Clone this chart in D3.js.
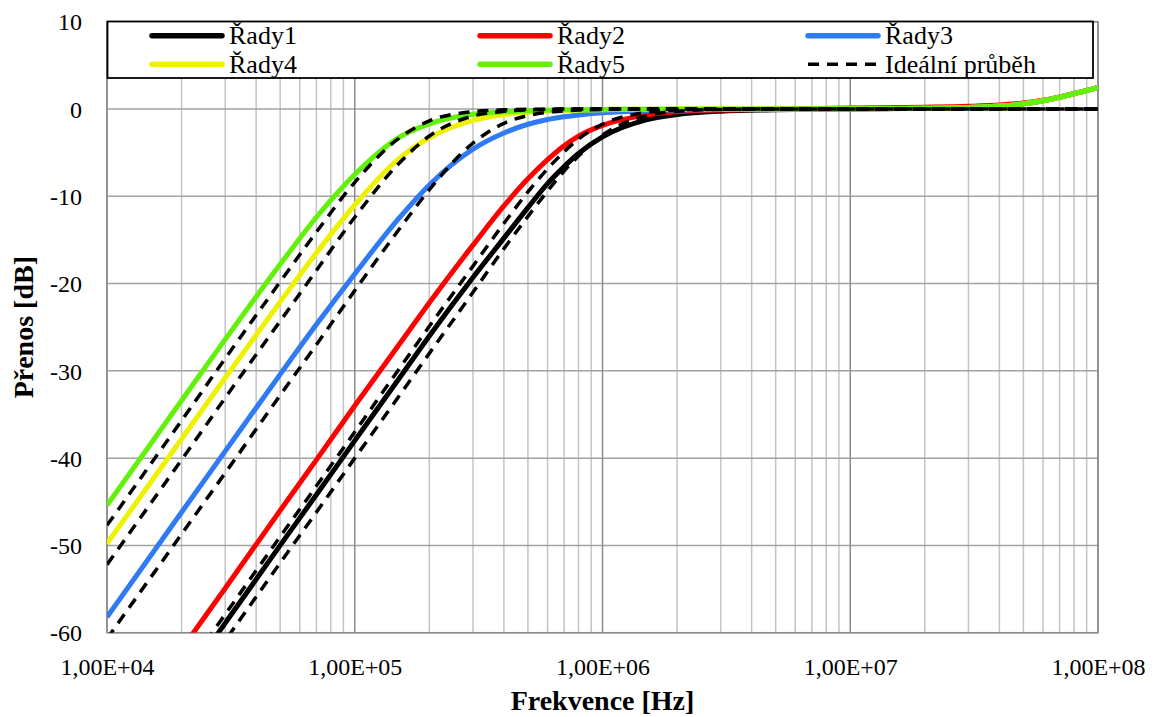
<!DOCTYPE html>
<html>
<head>
<meta charset="utf-8">
<script src="https://cdn.jsdelivr.net/npm/d3@7"></script>
<style>
  html, body { margin: 0; padding: 0; background: #fff; }
  svg { display: block; }
  text { font-family: "Liberation Serif", "Times New Roman", serif; fill: #000; }
</style>
</head>
<body>
<svg id="chart" width="1155" height="717"></svg>
<script>
// ---------------- data ----------------
const freqs = [1e4, 2e4, 3e4, 5e4, 7e4, 1e5, 1.5e5, 2e5, 3e5, 4e5, 5e5, 6e5, 7e5, 8e5, 1e6, 1.5e6, 2e6, 3e6, 5e6,
               1e7, 2e7, 3e7, 4e7, 5e7, 6e7, 7e7, 8e7, 9e7, 1e8];

const rady1 = [-78.0, -66.0, -58.9, -50.0, -44.2, -38.0, -31.0, -26.0, -19.3, -14.8, -11.3, -8.55, -6.6, -5.1, -3.2, -1.25, -0.63, -0.25, -0.09,
               0.01, 0.08, 0.17, 0.33, 0.6, 0.95, 1.35, 1.75, 2.1, 2.47];
const rady2 = [-74.0, -61.9, -54.9, -46.0, -40.2, -34.0, -27.1, -22.2, -15.6, -11.1, -8.0, -5.8, -4.2, -3.1, -1.87, -0.7, -0.33, -0.13, -0.03,
               0.12, 0.2, 0.3, 0.45, 0.7, 1.0, 1.38, 1.77, 2.12, 2.47];
const rady3 = [-58.2, -46.2, -39.2, -30.4, -24.7, -18.9, -12.6, -8.7, -4.6, -2.75, -1.75, -1.2, -0.89, -0.68, -0.43, -0.19, -0.11, -0.05, -0.02,
               0.02, 0.08, 0.17, 0.33, 0.6, 0.95, 1.35, 1.75, 2.1, 2.47];
const rady4 = [-49.8, -37.8, -30.8, -22.1, -16.5, -11.0, -5.75, -3.3, -1.3, -0.65, -0.38, -0.25, -0.18, -0.13, -0.08, -0.04, -0.02, -0.01, 0,
               0.03, 0.08, 0.17, 0.33, 0.6, 0.95, 1.35, 1.75, 2.1, 2.47];
const rady5 = [-45.4, -33.4, -26.4, -17.8, -12.4, -7.5, -3.3, -1.7, -0.6, -0.33, -0.21, -0.14, -0.1, -0.08, -0.05, -0.02, -0.01, 0, 0,
               0.03, 0.08, 0.17, 0.33, 0.6, 0.95, 1.35, 1.75, 2.1, 2.47];

const ideal1 = [-80.0, -68.0, -60.9, -52.0, -46.2, -40.0, -33.0, -28.0, -21.0, -16.0, -12.3, -9.4, -7.1, -5.4, -3.0, -0.78, -0.26, -0.05, 0,
                0, 0, 0, 0, 0, 0, 0, 0, 0, 0];
const ideal2 = [-77.0, -64.9, -57.9, -49.0, -43.2, -37.0, -29.9, -24.9, -18.0, -13.1, -9.5, -6.85, -4.9, -3.45, -1.75, -0.41, -0.13, -0.03, 0,
                0, 0, 0, 0, 0, 0, 0, 0, 0, 0];
const ideal3 = [-60.7, -48.7, -41.7, -32.8, -27.0, -20.8, -13.9, -9.25, -3.9, -1.65, -0.75, -0.38, -0.21, -0.12, -0.05, -0.01, 0, 0, 0,
                0, 0, 0, 0, 0, 0, 0, 0, 0, 0];
const ideal4 = [-52.2, -40.2, -33.1, -24.3, -18.5, -12.4, -6.3, -3.1, -0.8, -0.27, -0.11, -0.055, -0.03, -0.02, 0, 0, 0, 0, 0,
                0, 0, 0, 0, 0, 0, 0, 0, 0, 0];
const ideal5 = [-47.7, -35.7, -28.6, -19.8, -14.1, -8.4, -3.4, -1.36, -0.31, -0.1, -0.04, -0.02, -0.01, 0, 0, 0, 0, 0, 0,
                0, 0, 0, 0, 0, 0, 0, 0, 0, 0];

const seriesNames = ["Řady1", "Řady2", "Řady3", "Řady4", "Řady5"];
const idealName = "Ideální průběh";
const seriesColors = ["#000000", "#ff0000", "#2f7bf5", "#eef200", "#62f20a"];

const yTicks = [10, 0, -10, -20, -30, -40, -50, -60];
const xTicks = [1e4, 1e5, 1e6, 1e7, 1e8];
const xTickLabels = ["1,00E+04", "1,00E+05", "1,00E+06", "1,00E+07", "1,00E+08"];
const xTitle = "Frekvence [Hz]";
const yTitle = "Přenos [dB]";

// ---------------- layout ----------------
const L = 107, R = 1098, T = 21.7, B = 632.7;
const svg = d3.select("#chart");
svg.append("rect").attr("width", 1155).attr("height", 717).attr("fill", "#fff");

const x = d3.scaleLog().domain([1e4, 1e8]).range([L, R]);
const y = d3.scaleLinear().domain([-60, 10]).range([B, T]);

// grid
const grid = svg.append("g");
const minor = [];
for (let d = 4; d < 8; d++) for (let m = 2; m <= 9; m++) minor.push(m * Math.pow(10, d));
grid.selectAll(".minor").data(minor).join("line")
  .attr("x1", d => x(d)).attr("x2", d => x(d)).attr("y1", T).attr("y2", B)
  .attr("stroke", "#c4c4c4").attr("stroke-width", 1.5);
grid.selectAll(".hgrid").data(yTicks).join("line")
  .attr("x1", L).attr("x2", R).attr("y1", d => y(d)).attr("y2", d => y(d))
  .attr("stroke", "#a2a2a2").attr("stroke-width", 1.5);
grid.selectAll(".major").data(xTicks).join("line")
  .attr("x1", d => x(d)).attr("x2", d => x(d)).attr("y1", T).attr("y2", B)
  .attr("stroke", "#8c8c8c").attr("stroke-width", 1.5);
svg.append("rect").attr("x", L).attr("y", T).attr("width", R - L).attr("height", B - T)
  .attr("fill", "none").attr("stroke", "#8c8c8c").attr("stroke-width", 1.5);

// clip
svg.append("defs").append("clipPath").attr("id", "plotclip")
  .append("rect").attr("x", L).attr("y", T).attr("width", R - L).attr("height", B - T);

const line = d3.line().x(d => x(d[0])).y(d => y(d[1])).curve(d3.curveMonotoneX);
const plot = svg.append("g").attr("clip-path", "url(#plotclip)");

const solids = [rady1, rady2, rady3, rady4, rady5];
solids.forEach((vals, i) => {
  plot.append("path").datum(freqs.map((f, k) => [f, vals[k]]))
    .attr("d", line).attr("fill", "none")
    .attr("stroke", seriesColors[i]).attr("stroke-width", 5)
    .attr("stroke-linejoin", "round");
});
const ideals = [ideal1, ideal2, ideal3, ideal4, ideal5];
ideals.forEach(vals => {
  plot.append("path").datum(freqs.map((f, k) => [f, vals[k]]))
    .attr("d", line).attr("fill", "none")
    .attr("stroke", "#000").attr("stroke-width", 3.5)
    .attr("stroke-dasharray", "11,8");
});

// axes
const yAxis = svg.append("g").attr("transform", `translate(${L},0)`)
  .call(d3.axisLeft(y).tickValues(yTicks).tickSize(0).tickPadding(25).tickFormat(d => String(d)));
yAxis.select(".domain").remove();
yAxis.selectAll("text").attr("font-size", 24).attr("font-family", '"Liberation Serif", serif').attr("dy", "0.34em");

const xAxis = svg.append("g").attr("transform", `translate(0,${B})`)
  .call(d3.axisBottom(x).tickValues(xTicks).tickSize(0).tickPadding(25).tickFormat((d, i) => xTickLabels[i]));
xAxis.select(".domain").remove();
xAxis.selectAll("text").attr("font-size", 24).attr("font-family", '"Liberation Serif", serif');

// titles
svg.append("text").attr("x", (L + R) / 2).attr("y", 710).attr("text-anchor", "middle")
  .attr("font-size", 28).attr("font-weight", "bold").text(xTitle);
svg.append("text").attr("transform", `translate(33,${(T + B) / 2}) rotate(-90)`)
  .attr("text-anchor", "middle").attr("font-size", 28).attr("font-weight", "bold").text(yTitle);

// legend
const lg = svg.append("g");
lg.append("rect").attr("x", 107.5).attr("y", 21.5).attr("width", 985.5).attr("height", 56.5)
  .attr("fill", "#fff").attr("stroke", "#000").attr("stroke-width", 1.8);
const colX = [152, 480, 808];
const rowY = [35.7, 64.3];
const items = seriesNames.map((n, i) => ({ name: n, color: seriesColors[i], dash: null }))
  .concat([{ name: idealName, color: "#000", dash: "11,8" }]);
items.forEach((it, i) => {
  const cx = colX[i % 3], ry = rowY[Math.floor(i / 3)];
  lg.append("line").attr("x1", cx).attr("x2", cx + 70).attr("y1", ry).attr("y2", ry)
    .attr("stroke", it.color).attr("stroke-width", it.dash ? 3.5 : 5.5)
    .attr("stroke-linecap", it.dash ? "butt" : "round")
    .attr("stroke-dasharray", it.dash);
  lg.append("text").attr("x", cx + 77).attr("y", ry + 8.7).attr("font-size", 26).text(it.name);
});
</script>
</body>
</html>
